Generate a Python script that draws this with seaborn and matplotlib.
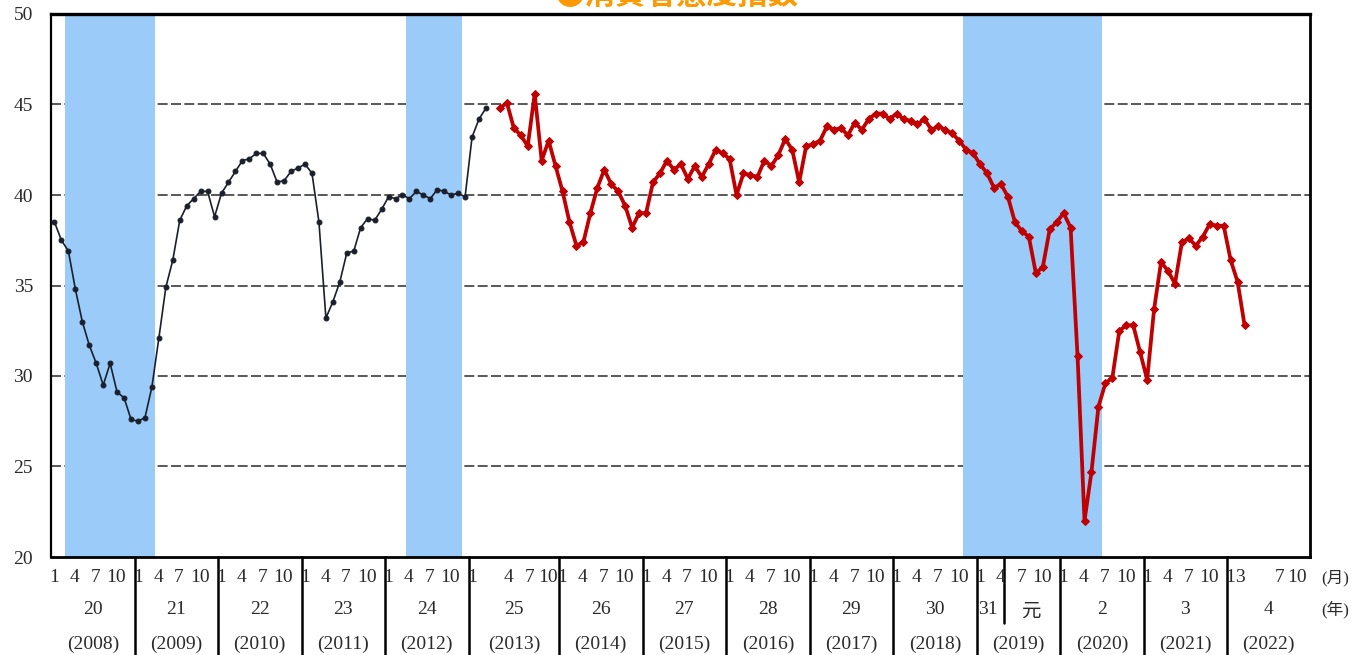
import matplotlib
matplotlib.use("Agg")
import matplotlib.pyplot as plt
import seaborn as sns
import pandas as pd
import numpy as np

# ---------------- data ----------------
black_start = (2008, 1)   # old survey method, Jan 2008 - Mar 2013
black_values = [
    38.5, 37.5, 36.9, 34.8, 33.0, 31.7, 30.7, 29.5, 30.7, 29.1, 28.8, 27.6,
    27.5, 27.7, 29.4, 32.1, 34.9, 36.4, 38.6, 39.4, 39.8, 40.2, 40.2, 38.8,
    40.1, 40.7, 41.3, 41.9, 42.0, 42.3, 42.3, 41.7, 40.7, 40.8, 41.3, 41.5,
    41.7, 41.2, 38.5, 33.2, 34.1, 35.2, 36.8, 36.9, 38.2, 38.7, 38.6, 39.2,
    39.9, 39.8, 40.0, 39.8, 40.2, 40.0, 39.8, 40.3, 40.2, 40.0, 40.1, 39.9,
    43.2, 44.2, 44.8,
]
red_start = (2013, 4)     # new survey method, Apr 2013 - Mar 2022
red_values = [
    44.8, 45.1, 43.7, 43.3, 42.7, 45.6, 41.9, 43.0, 41.6,
    40.2, 38.5, 37.2, 37.4, 39.0, 40.4, 41.4, 40.6, 40.2, 39.4, 38.2, 39.0,
    39.0, 40.7, 41.2, 41.9, 41.4, 41.7, 40.9, 41.6, 41.0, 41.7, 42.5, 42.3,
    42.0, 40.0, 41.2, 41.1, 41.0, 41.9, 41.6, 42.2, 43.1, 42.5, 40.7, 42.7,
    42.8, 43.0, 43.8, 43.6, 43.7, 43.3, 44.0, 43.6, 44.2, 44.5, 44.5, 44.2,
    44.5, 44.2, 44.1, 43.9, 44.2, 43.6, 43.8, 43.6, 43.4, 43.0, 42.5, 42.3,
    41.7, 41.2, 40.4, 40.6, 39.9, 38.5, 38.0, 37.7, 35.7, 36.0, 38.1, 38.5,
    39.0, 38.2, 31.1, 22.0, 24.7, 28.3, 29.6, 29.9, 32.5, 32.8, 32.8, 31.3,
    29.8, 33.7, 36.3, 35.8, 35.1, 37.4, 37.6, 37.2, 37.7, 38.4, 38.3, 38.3,
    36.4, 35.2, 32.8,
]
# recession periods (first month shaded, last month shaded)
recessions = [((2008, 3), (2009, 3)), ((2012, 4), (2012, 11)), ((2018, 11), (2020, 6))]
years = list(range(2008, 2023))
era_labels = ["20", "21", "22", "23", "24", "25", "26", "27", "28", "29", "30", "", "2", "3", "4"]
month_ticks = ["1", "4", "7", "10"]
y_ticks = [20, 25, 30, 35, 40, 45, 50]

# ---------------- helpers ----------------
def slot(y, m):
    s = (y - 2008) * 12 + (m - 1)
    if (y, m) >= (2013, 4):
        s += 1          # one empty slot between the two survey methods
    return s

def month_seq(start, n):
    y, m = start
    out = []
    for _ in range(n):
        out.append((y, m))
        m += 1
        if m > 12:
            m = 1
            y += 1
    return out

black_df = pd.DataFrame({"pos": [slot(*d) + 0.5 for d in month_seq(black_start, len(black_values))],
                         "value": black_values})
red_df = pd.DataFrame({"pos": [slot(*d) + 0.5 for d in month_seq(red_start, len(red_values))],
                       "value": red_values})

# ---------------- figure ----------------
sns.set_style("white")
plt.rcParams["font.family"] = ["Liberation Serif", "Noto Sans CJK JP", "DejaVu Sans"]

W, H = 1366, 655
fig = plt.figure(figsize=(W / 100, H / 100), dpi=100)
L, R, T, B = 51, 1310, 14, 557
ax = fig.add_axes([L / W, 1 - B / H, (R - L) / W, (B - T) / H])

XMAX = 180.9
ax.set_xlim(0, XMAX)
ax.set_ylim(20, 50)

# gridlines
for yv in [25, 30, 35, 40, 45]:
    ax.axhline(yv, color="#3c3c3c", lw=1.2, ls=(0, (6, 2)), zorder=1)

# recession shading
for (a, b) in recessions:
    ax.axvspan(slot(*a), slot(*b) + 1, color="#9BCBF8", lw=0, zorder=2)

sns.lineplot(data=black_df, x="pos", y="value", ax=ax, color="#1b1f2b", lw=1.2,
             marker="o", markersize=3.5, markeredgecolor="#1b1f2b", zorder=4)
sns.lineplot(data=red_df, x="pos", y="value", ax=ax, color="#C00000", lw=2.7,
             marker="D", markersize=4.5, markeredgecolor="#C00000", zorder=5)

ax.set_xlabel("")
ax.set_ylabel("")
ax.set_xticks([])
ax.set_yticks(y_ticks)
ax.set_yticklabels([str(v) for v in y_ticks], fontsize=14, color="#2a2a2a")
ax.tick_params(axis="y", length=0, pad=13)

for side, lw in [("left", 1.6), ("top", 2.4), ("right", 2.0), ("bottom", 2.0)]:
    ax.spines[side].set_visible(True)
    ax.spines[side].set_color("black")
    ax.spines[side].set_linewidth(lw)

# ---------------- table under the axis ----------------
tr = ax.get_xaxis_transform()
ah = B - T
def yf(px):
    return (B - px) / ah

y_month, y_era, y_west, y_bot = yf(578), yf(610), yf(644), yf(H + 2)
txt_kw = dict(transform=tr, ha="center", va="center", color="#2a2a2a", fontsize=14, clip_on=False)

starts = [slot(y, 1) for y in years]
ends = starts[1:] + [XMAX]
for s in starts[1:]:
    ax.plot([s, s], [0, y_bot], transform=tr, color="black", lw=1.8, clip_on=False)
# Reiwa era boundary in 2019 (May)
ax.plot([slot(2019, 5), slot(2019, 5)], [0, yf(623)], transform=tr, color="black", lw=1.8, clip_on=False)

normal_off = [0.5, 3.4, 6.4, 9.4]
for i, y in enumerate(years):
    s0, s1 = starts[i], ends[i]
    if y == 2013:
        offs = [0.5, 5.7, 8.8, 11.4]
        labs = month_ticks
    elif y == 2022:
        offs = [0.4, 1.9, 7.5, 10.0]
        labs = ["1", "3", "7", "10"]
    else:
        offs = normal_off
        labs = month_ticks
    for o, lab in zip(offs, labs):
        ax.text(s0 + o, y_month, lab, **txt_kw)
    if y == 2019:
        ax.text(s0 + 1.6, y_era, "31", **txt_kw)
        ax.text(slot(2019, 5) + 3.8, y_era - 0.004, "元", **txt_kw)
    else:
        ax.text((s0 + s1) / 2, y_era, era_labels[i], **txt_kw)
    ax.text((s0 + s1) / 2, y_west, f"({y})", **txt_kw)

fig.text(1335 / W, 1 - 578 / H, "(月)", ha="center", va="center", fontsize=12, color="#2a2a2a")
fig.text(1335 / W, 1 - 610 / H, "(年)", ha="center", va="center", fontsize=12, color="#2a2a2a")

# cut-off title at the very top
fig.text(676 / W, 1 - 4 / H, "●消費者態度指数", ha="center", va="baseline", fontsize=22,
         fontweight="bold", color="#FF9900", family=["Noto Sans CJK JP", "DejaVu Sans"])

fig.savefig("out.png", dpi=100)
